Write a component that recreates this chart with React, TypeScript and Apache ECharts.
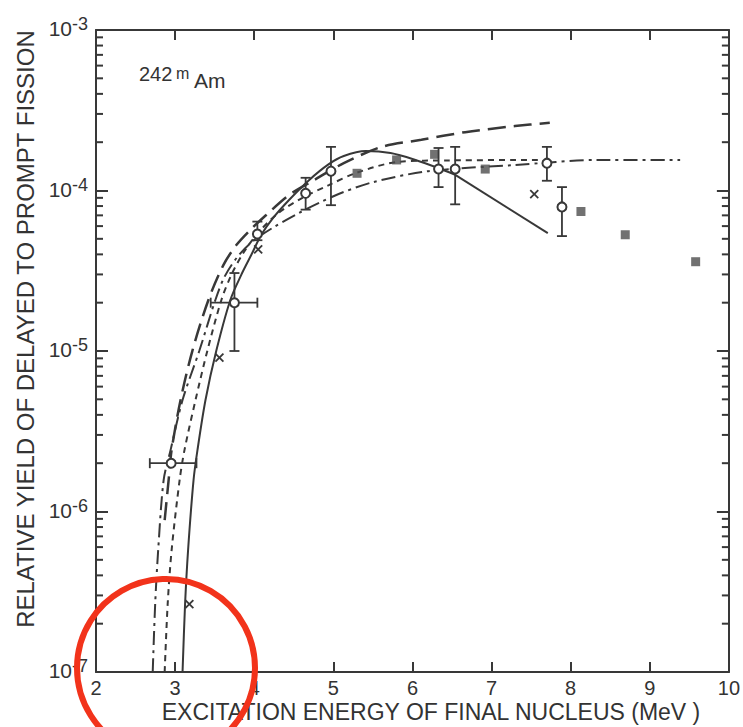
import React, { useEffect, useRef } from "react";
import * as echarts from "echarts";

// ---- data ----
const solidCurveRise: [number, number][] = [
  [3.094, 1e-7], [3.126, 2.65e-7], [3.164, 5.75e-7], [3.233, 1.57e-6], [3.283, 2.42e-6],
  [3.384, 4.95e-6], [3.522, 1.01e-5], [3.698, 2.08e-5], [3.836, 2.98e-5], [3.962, 3.96e-5],
  [4.088, 5.28e-5], [4.239, 6.75e-5], [4.44, 8.73e-5], [4.692, 1.16e-4], [4.943, 1.46e-4],
  [5.132, 1.64e-4], [5.409, 1.76e-4], [5.723, 1.71e-4], [6.038, 1.55e-4], [6.327, 1.38e-4],
  [6.541, 1.25e-4],
];
const solidCurveTail: [number, number][] = [
  [6.541, 1.25e-4], [7.711, 5.43e-5],
];
const shortDashCurve: [number, number][] = [
  [2.868, 1e-7], [2.906, 2.65e-7], [2.956, 5.75e-7], [3.057, 1.57e-6], [3.119, 2.42e-6],
  [3.258, 4.95e-6], [3.409, 1.01e-5], [3.585, 2.08e-5], [3.711, 2.98e-5], [3.862, 4.08e-5],
  [4.038, 5.36e-5], [4.289, 7.14e-5], [4.604, 8.97e-5], [4.943, 1.08e-4], [5.296, 1.29e-4],
  [5.824, 1.51e-4], [6.453, 1.54e-4], [7.585, 1.55e-4],
];
const dashDotCurve: [number, number][] = [
  [2.717, 1e-7], [2.748, 2.65e-7], [2.786, 5.75e-7], [2.855, 1.57e-6], [2.943, 2.42e-6],
  [3.094, 4.95e-6], [3.308, 1.01e-5], [3.509, 2.08e-5], [3.623, 2.89e-5], [3.786, 3.85e-5],
  [3.987, 4.85e-5], [4.252, 5.93e-5], [4.566, 7.25e-5], [4.843, 8.48e-5], [5.132, 9.79e-5],
  [5.509, 1.13e-4], [6.201, 1.32e-4], [7.296, 1.44e-4], [8.34, 1.55e-4], [9.384, 1.55e-4],
];
const longDashCurve: [number, number][] = [
  [2.868, 8.85e-7], [2.918, 1.57e-6], [2.956, 2.42e-6], [3.069, 4.95e-6], [3.22, 1.01e-5],
  [3.421, 2.08e-5], [3.61, 3.43e-5], [3.774, 4.57e-5], [3.95, 5.68e-5], [4.151, 7.04e-5],
  [4.44, 9.37e-5], [4.755, 1.16e-4], [5.132, 1.48e-4], [5.61, 1.87e-4], [6.113, 2.07e-4],
  [6.667, 2.31e-4], [7.296, 2.52e-4], [7.736, 2.64e-4],
];

const circlePoints: [number, number][] = [
  [2.95, 2.0e-6], [3.75, 2.0e-5], [4.04, 5.36e-5], [4.65, 9.6e-5], [4.97, 1.32e-4],
  [6.33, 1.36e-4], [6.54, 1.36e-4], [7.70, 1.48e-4], [7.89, 7.9e-5],
];
const circleXErr: ([number, number] | null)[] = [
  [2.68, 3.27], [3.45, 4.04], null, null, null, null, null, null, null,
];
const circleYErr: ([number, number] | null)[] = [
  null, [1.0e-5, 3.06e-5], [4.9e-5, 6.4e-5], [7.6e-5, 1.2e-4], [8.1e-5, 1.87e-4],
  [1.05e-4, 1.84e-4], [8.2e-5, 1.87e-4], [1.15e-4, 1.87e-4], [5.2e-5, 1.05e-4],
];
const squarePoints: [number, number][] = [
  [5.30, 1.28e-4], [5.80, 1.55e-4], [6.28, 1.68e-4], [6.92, 1.36e-4],
  [8.13, 7.4e-5], [8.69, 5.3e-5], [9.58, 3.6e-5],
];
const crossPoints: [number, number][] = [
  [3.18, 2.65e-7], [3.56, 9.1e-6], [4.05, 4.3e-5], [7.54, 9.5e-5],
];

const decades = [1e-7, 1e-6, 1e-5, 1e-4];
const minorMultipliers = [2, 3, 4, 5, 6, 7, 8, 9];

const xName = "EXCITATION ENERGY OF FINAL NUCLEUS (MeV )";
const yName = "RELATIVE YIELD OF DELAYED TO PROMPT FISSION";

const INK = "#383838";
const FONT = "Liberation Sans";

export default function App() {
  const ref = useRef<HTMLDivElement>(null);
  useEffect(() => {
    if (!ref.current) return;
    const chart = echarts.init(ref.current, null, { renderer: "svg" });
    const minorTicks: number[][] = [];
    decades.forEach((d) => minorMultipliers.forEach((m) => minorTicks.push([2, d * m])));

    const lineSeries = (data: [number, number][], type: any, width = 2, smooth: any = 0.3) => ({
      type: "line",
      data,
      symbol: "none",
      smooth,
      lineStyle: { color: INK, width, type },
      z: 3,
      silent: true,
    });

    const option: any = {
      animation: false,
      backgroundColor: "#ffffff",
      grid: { left: 96, right: 11, top: 30, bottom: 55 },
      xAxis: [
        {
          type: "value", min: 2, max: 10, interval: 1, position: "bottom",
          axisLine: { lineStyle: { color: INK, width: 2 } },
          axisTick: { inside: true, length: 10, lineStyle: { color: INK, width: 2 } },
          axisLabel: { fontSize: 20, color: "#333", margin: 6, fontFamily: FONT, lineHeight: 20 },
          splitLine: { show: false },
        },
        {
          type: "value", min: 2, max: 10, interval: 1, position: "top",
          axisLine: { lineStyle: { color: INK, width: 2 } },
          axisTick: { inside: true, length: 10, lineStyle: { color: INK, width: 2 } },
          axisLabel: { show: false },
          splitLine: { show: false },
        },
      ],
      yAxis: [
        {
          type: "log", logBase: 10, min: 1e-7, max: 1e-3, position: "left",
          axisLine: { lineStyle: { color: INK, width: 2 } },
          axisTick: { inside: true, length: 12, lineStyle: { color: INK, width: 2 } },
          splitLine: { show: false },
          axisLabel: {
            margin: 8,
            padding: [0, 0, 6, 0],
            formatter: (v: number) => `{b|10}{s|-${Math.round(-Math.log10(v))}}`,
            rich: {
              b: { fontSize: 21, fontFamily: FONT, color: "#333", verticalAlign: "bottom", lineHeight: 24, padding: [8, 0, 0, 0] },
              s: { fontSize: 18, fontFamily: FONT, color: "#333", verticalAlign: "top", lineHeight: 18 },
            },
          },
        },
        {
          type: "log", logBase: 10, min: 1e-7, max: 1e-3, position: "right",
          axisLine: { lineStyle: { color: INK, width: 2 } },
          axisTick: { inside: true, length: 12, lineStyle: { color: INK, width: 2 } },
          splitLine: { show: false },
          axisLabel: { show: false },
        },
      ],
      series: [
        {
          type: "custom",
          silent: true,
          data: minorTicks,
          renderItem: (params: any, api: any) => {
            const p = api.coord([api.value(0), api.value(1)]);
            const cs = params.coordSys;
            const st = { stroke: INK, lineWidth: 2 };
            return {
              type: "group",
              children: [
                { type: "line", shape: { x1: cs.x, y1: p[1], x2: cs.x + 7, y2: p[1] }, style: st },
                { type: "line", shape: { x1: cs.x + cs.width - 7, y1: p[1], x2: cs.x + cs.width, y2: p[1] }, style: st },
              ],
            };
          },
        },
        lineSeries(solidCurveRise, "solid", 2),
        lineSeries(solidCurveTail, "solid", 2, false),
        lineSeries(shortDashCurve, [6, 5], 2),
        lineSeries(dashDotCurve, [14, 5, 3, 5], 2),
        lineSeries(longDashCurve, [18, 8], 2.5),
        {
          type: "scatter",
          data: squarePoints,
          symbol: "rect",
          symbolSize: 9,
          itemStyle: { color: "#4e4e4e" },
          z: 4,
          silent: true,
        },
        {
          type: "custom",
          silent: true,
          z: 5,
          data: crossPoints,
          renderItem: (params: any, api: any) => {
            const p = api.coord([api.value(0), api.value(1)]);
            const s = 4;
            const st = { stroke: INK, lineWidth: 1.8 };
            return {
              type: "group",
              children: [
                { type: "line", shape: { x1: p[0] - s, y1: p[1] - s, x2: p[0] + s, y2: p[1] + s }, style: st },
                { type: "line", shape: { x1: p[0] - s, y1: p[1] + s, x2: p[0] + s, y2: p[1] - s }, style: st },
              ],
            };
          },
        },
        {
          type: "custom",
          silent: true,
          z: 6,
          data: circlePoints,
          renderItem: (params: any, api: any) => {
            const i = params.dataIndex;
            const x = api.value(0);
            const y = api.value(1);
            const p = api.coord([x, y]);
            const st = { stroke: INK, lineWidth: 1.8 };
            const cap = 5;
            const children: any[] = [];
            const ye = circleYErr[i];
            if (ye) {
              const lo = api.coord([x, ye[0]]);
              const hi = api.coord([x, ye[1]]);
              children.push({ type: "line", shape: { x1: p[0], y1: lo[1], x2: p[0], y2: hi[1] }, style: st });
              children.push({ type: "line", shape: { x1: p[0] - cap, y1: lo[1], x2: p[0] + cap, y2: lo[1] }, style: st });
              children.push({ type: "line", shape: { x1: p[0] - cap, y1: hi[1], x2: p[0] + cap, y2: hi[1] }, style: st });
            }
            const xe = circleXErr[i];
            if (xe) {
              const lo = api.coord([xe[0], y]);
              const hi = api.coord([xe[1], y]);
              children.push({ type: "line", shape: { x1: lo[0], y1: p[1], x2: hi[0], y2: p[1] }, style: st });
              children.push({ type: "line", shape: { x1: lo[0], y1: p[1] - cap, x2: lo[0], y2: p[1] + cap }, style: st });
              children.push({ type: "line", shape: { x1: hi[0], y1: p[1] - cap, x2: hi[0], y2: p[1] + cap }, style: st });
            }
            children.push({
              type: "circle",
              shape: { cx: p[0], cy: p[1], r: 4.5 },
              style: { fill: "#ffffff", stroke: INK, lineWidth: 2 },
            });
            return { type: "group", children };
          },
        },
      ],
      graphic: [
        {
          type: "text", x: 431, y: 712,
          style: { text: xName, fontSize: 23, fontFamily: FONT, fill: "#333", align: "center", verticalAlign: "middle" },
        },
        {
          type: "text", x: 25, y: 329, rotation: Math.PI / 2,
          style: { text: yName, fontSize: 24, fontFamily: FONT, fill: "#333", align: "center", verticalAlign: "middle" },
        },
        {
          type: "text", x: 139, y: 84,
          style: { text: "242", fontSize: 20, fontFamily: FONT, fill: "#333", align: "left", verticalAlign: "bottom" },
        },
        {
          type: "text", x: 176, y: 81,
          style: { text: "m", fontSize: 16, fontFamily: FONT, fill: "#333", align: "left", verticalAlign: "bottom" },
        },
        {
          type: "text", x: 194, y: 91,
          style: { text: "Am", fontSize: 21, fontFamily: FONT, fill: "#333", align: "left", verticalAlign: "bottom" },
        },
        {
          type: "circle", z: 100,
          shape: { cx: 166, cy: 668, r: 89 },
          style: { fill: "none", stroke: "#f2331b", lineWidth: 6 },
        },
      ],
    };
    chart.setOption(option);
    return () => chart.dispose();
  }, []);
  return (
    <div
      ref={ref}
      style={{ position: "fixed", left: 0, top: 0, width: 743, height: 727 }}
    />
  );
}
